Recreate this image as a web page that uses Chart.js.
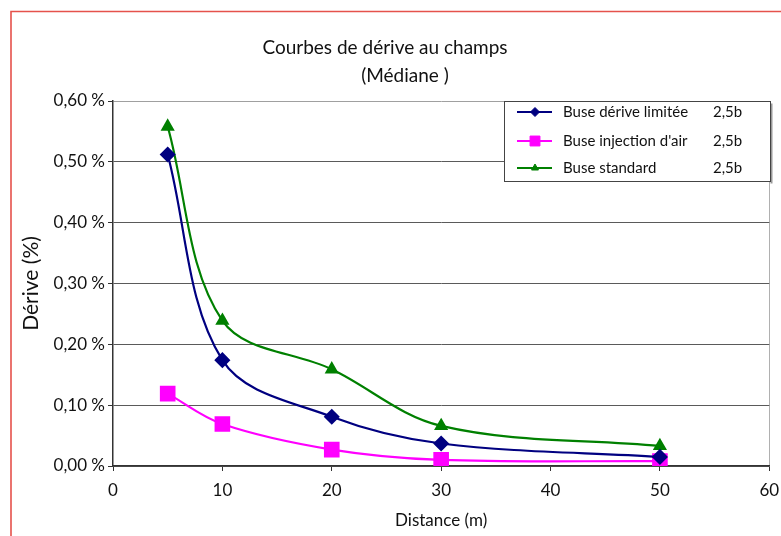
<!DOCTYPE html>
<html>
<head>
<meta charset="utf-8">
<script src="https://cdn.jsdelivr.net/npm/chart.js@4/dist/chart.umd.min.js"></script>
<style>
  html, body { margin: 0; padding: 0; background: #fff; }
  #wrap { width: 781px; height: 536px; position: relative; }
</style>
</head>
<body>
<div id="wrap"><canvas id="c" width="781" height="536"></canvas></div>
<script>
// Distances from the spray line (m)
const distances = [5, 10, 20, 30, 50];

// Median drift (%) per nozzle type
const limitedDrift = [0.512, 0.174, 0.081, 0.037, 0.015];
const airInjection = [0.119, 0.069, 0.027, 0.010, 0.008];
const standard     = [0.558, 0.239, 0.159, 0.066, 0.033];

const seriesNames = ['Buse dérive limitée', "Buse injection d'air", 'Buse standard'];
const pressures   = ['2,5b', '2,5b', '2,5b'];

const titleLines = ['Courbes de dérive au champs', '(Médiane )'];
const xTitle = 'Distance (m)';
const yTitle = 'Dérive (%)';

const FONT = 'Lato, "Open Sans", sans-serif';

const toPoints = vals => vals.map((v, i) => ({ x: distances[i], y: v }));

// Frame, titles and the boxed legend inside the plot
const decor = {
  id: 'decor',
  beforeDraw(chart) {
    const ctx = chart.ctx;
    ctx.save();
    ctx.strokeStyle = '#e5524b';
    ctx.lineWidth = 1.6;
    ctx.beginPath();
    ctx.moveTo(11, 540);
    ctx.lineTo(11, 11.5);
    ctx.lineTo(790, 11.5);
    ctx.stroke();

    ctx.fillStyle = '#111';
    ctx.textAlign = 'center';
    ctx.textBaseline = 'middle';
    ctx.font = '19px ' + FONT;
    ctx.fillText(titleLines[0], 385, 48);
    ctx.fillText(titleLines[1], 405, 76);
    ctx.restore();
  },
  afterDraw(chart) {
    const ctx = chart.ctx;
    const bx = 504.5, by = 101.5, bw = 266, bh = 80;
    ctx.save();
    ctx.fillStyle = '#999';
    ctx.fillRect(bx + bw, by + 2, 2, bh);
    ctx.fillStyle = '#fff';
    ctx.fillRect(bx, by, bw, bh);
    ctx.strokeStyle = '#444';
    ctx.lineWidth = 1;
    ctx.strokeRect(bx, by, bw, bh);

    const rows = [112, 141, 168];
    const legendRadius = [4.5, 7, 4];
    chart.data.datasets.forEach((ds, i) => {
      const y = rows[i];
      ctx.strokeStyle = ds.borderColor;
      ctx.lineWidth = 2.2;
      ctx.beginPath();
      ctx.moveTo(517, y);
      ctx.lineTo(552, y);
      ctx.stroke();
      ctx.fillStyle = ds.pointBackgroundColor;
      ctx.strokeStyle = ds.pointBorderColor;
      ctx.lineWidth = 1;
      Chart.helpers.drawPoint(ctx, { pointStyle: ds.pointStyle, radius: legendRadius[i], borderWidth: 1, rotation: 0 }, 535, y);
      ctx.fillStyle = '#111';
      ctx.font = '15px ' + FONT;
      ctx.textAlign = 'left';
      ctx.textBaseline = 'middle';
      ctx.fillText(seriesNames[i], 563, y);
      ctx.fillText(pressures[i], 713, y);
    });
    ctx.restore();
  }
};

new Chart(document.getElementById('c'), {
  type: 'line',
  data: {
    datasets: [
      {
        label: seriesNames[0] + '  ' + pressures[0],
        data: toPoints(limitedDrift),
        borderColor: '#000080',
        backgroundColor: '#000080',
        pointBackgroundColor: '#000080',
        pointBorderColor: '#000080',
        pointStyle: 'rectRot',
        pointRadius: 6.5,
        borderWidth: 2.2,
        tension: 0.35
      },
      {
        label: seriesNames[1] + '  ' + pressures[1],
        data: toPoints(airInjection),
        borderColor: '#ff00ff',
        backgroundColor: '#ff00ff',
        pointBackgroundColor: '#ff00ff',
        pointBorderColor: '#ff00ff',
        pointStyle: 'rect',
        pointRadius: 9.5,
        borderWidth: 2.2,
        tension: 0.35
      },
      {
        label: seriesNames[2] + '  ' + pressures[2],
        data: toPoints(standard),
        borderColor: '#008000',
        backgroundColor: '#008000',
        pointBackgroundColor: '#008000',
        pointBorderColor: '#008000',
        pointStyle: 'triangle',
        pointRadius: 6,
        borderWidth: 2.2,
        tension: 0.35
      }
    ]
  },
  options: {
    responsive: false,
    animation: false,
    devicePixelRatio: 1,
    layout: { padding: { top: 101, right: 10, left: 0, bottom: 0 } },
    plugins: {
      legend: { display: false },
      title: { display: false },
      tooltip: { enabled: false }
    },
    scales: {
      x: {
        type: 'linear',
        min: 0,
        max: 60,
        afterFit: s => { s.height = 70; s.paddingLeft = 0; s.paddingRight = 0; },
        ticks: { stepSize: 10, color: '#111', font: { family: FONT, size: 17 }, padding: 9, maxRotation: 0 },
        grid: {
          drawOnChartArea: true,
          color: c => (c.tick && c.tick.value === 60 ? '#b0b0b0' : 'rgba(0,0,0,0)'),
          tickColor: '#333',
          tickLength: 5,
          lineWidth: 1
        },
        border: { color: '#333', width: 1.5 },
        title: { display: true, text: xTitle, color: '#111', font: { family: FONT, size: 17 }, padding: { top: 0, bottom: 5 } }
      },
      y: {
        min: 0,
        max: 0.6,
        afterFit: s => { s.width = 113; s.paddingTop = 0; s.paddingBottom = 0; },
        ticks: {
          stepSize: 0.1,
          color: '#111',
          font: { family: FONT, size: 17 },
          padding: 3,
          callback: v => v.toFixed(2).replace('.', ',') + ' %'
        },
        grid: {
          color: c => (c.tick && Math.abs(c.tick.value - 0.6) < 1e-9 ? '#a0a0a0' : '#5a5a5a'),
          tickColor: '#333',
          tickLength: 5,
          lineWidth: 1
        },
        border: { color: '#333', width: 1.5 },
        title: { display: true, text: yTitle, color: '#111', font: { family: FONT, size: 21 }, padding: { top: 19, bottom: 0 } }
      }
    }
  },
  plugins: [decor]
});
</script>
</body>
</html>
